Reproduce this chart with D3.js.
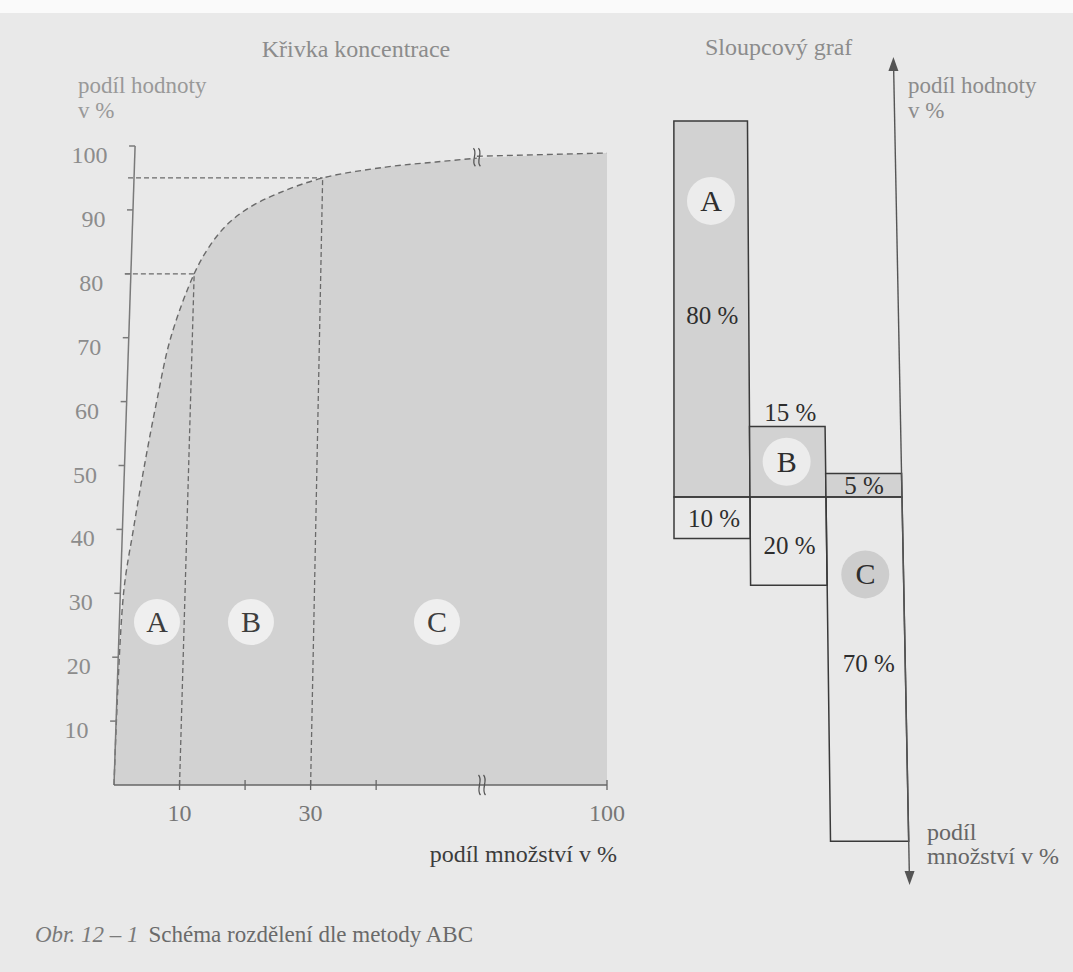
<!DOCTYPE html>
<html><head><meta charset="utf-8">
<script src="https://cdn.jsdelivr.net/npm/d3@7"></script>
<style>html,body{margin:0;padding:0;background:#e9e9e9;} svg{display:block}</style>
</head><body><svg id="c" width="1073" height="972"></svg>
<script>
// ---------------- data ----------------
const classes = ["A", "B", "C"];
const valueShare = [80, 15, 5];        // podíl hodnoty v %
const quantityShare = [10, 20, 70];    // podíl množství v %
const curveX = [0, 0.5, 1.7, 3.1, 4.7, 6.6, 10, 12.3, 15, 18.5, 23, 30, 40, 48, 54.5];
const curveY = [0, 30, 40, 50, 60, 70, 80, 84.3, 87.7, 90.4, 92.6, 95, 96.7, 97.5, 98.1];
const tailX = [54.5, 100];
const tailY = [98.4, 98.9];
const yTicks = [10, 20, 30, 40, 50, 60, 70, 80, 90, 100];
const xTicks = [10, 20, 30, 40, 100];
const xTickLabels = [10, 30, 100];
const axisBreak = 56;
const titleLeft = "Křivka koncentrace";
const titleRight = "Sloupcový graf";
const yTitle = ["podíl hodnoty", "v %"];
const xTitle = "podíl množství v %";
const xTitleRight = ["podíl", "množství v %"];
const captionA = "Obr. 12 – 1";
const captionB = "Schéma rozdělení dle metody ABC";

// ---------------- setup ----------------
const svg = d3.select("#c");
const serif = "'Liberation Serif','DejaVu Serif',serif";
svg.append("rect").attr("width", 1073).attr("height", 972).attr("fill", "#e9e9e9");
svg.append("rect").attr("width", 1073).attr("height", 13).attr("fill", "#fafafa");

const cumQ = d3.cumsum(quantityShare);   // 10, 30, 100
const cumV = d3.cumsum(valueShare);      // 80, 95, 100

// ---------------- left: Křivka koncentrace ----------------
const x = d3.scaleLinear().domain([0, axisBreak, 100]).range([114, 481, 607]);
const y = d3.scaleLinear().domain([0, 100]).range([785, 146]);
const base = y(0);
// slight page warp of the scan
const warpL = (px, py) => {
  const k = 0.033 * Math.max(0, Math.min(1, (607 - px) / (607 - 114)));
  return [px + (base - py) * k, py];
};
const P = (dx, dy) => warpL(x(dx), y(dy));
const gL = svg.append("g");

const curvePts = curveX.map((d, i) => P(d, curveY[i]));
const tailPts = tailX.map((d, i) => P(d, tailY[i]));
const smooth = d3.curveCatmullRom.alpha(0.5);

// shaded area under curve
const areaGen = d3.area().x(p => p[0]).y0(base).y1(p => p[1]).curve(smooth);
gL.append("path")
  .attr("d", areaGen([...curvePts, tailPts[1]]))
  .attr("fill", "#d2d2d2");

// guides (dashed)
const dashCol = "#6a6a6a";
const seg = (a, b) => "M" + a[0] + "," + a[1] + "L" + b[0] + "," + b[1];
[0, 1].forEach(i => {
  gL.append("path").attr("d", seg(P(cumQ[i], 0), P(cumQ[i], cumV[i])))
    .attr("stroke", dashCol).attr("stroke-width", 1.3).attr("stroke-dasharray", "5,3").attr("fill", "none");
  gL.append("path").attr("d", seg(warpL(x(0) - 6, y(cumV[i])), P(cumQ[i], cumV[i])))
    .attr("stroke", dashCol).attr("stroke-width", 1.3).attr("stroke-dasharray", "5,3").attr("fill", "none");
});

// curve
gL.append("path").attr("d", d3.line().curve(smooth)(curvePts))
  .attr("stroke", dashCol).attr("stroke-width", 1.4).attr("stroke-dasharray", "6,4").attr("fill", "none");
gL.append("path").attr("d", seg(tailPts[0], tailPts[1]))
  .attr("stroke", dashCol).attr("stroke-width", 1.4).attr("stroke-dasharray", "6,4").attr("fill", "none");

// break marks
function breakMark(g, cx, cy, h, col) {
  [-2.5, 2.5].forEach(o => {
    g.append("path")
      .attr("d", `M${cx + o - 1},${cy - h / 2} C${cx + o + 4},${cy - h / 4} ${cx + o - 4},${cy + h / 4} ${cx + o + 1},${cy + h / 2}`)
      .attr("stroke", col).attr("stroke-width", 1.3).attr("fill", "none");
  });
}
const tb = P(tailX[0], (curveY[curveY.length - 1] + tailY[0]) / 2);
breakMark(gL, tb[0], tb[1], 18, "#555");

// y axis
const axCol = "#7a7a7a";
gL.append("path").attr("d", seg(P(0, 0), P(0, 100))).attr("stroke", axCol).attr("stroke-width", 1.5);
yTicks.forEach(v => {
  gL.append("path").attr("d", seg(warpL(x(0) - 6, y(v)), P(0, v))).attr("stroke", axCol).attr("stroke-width", 1.5);
  const lp = warpL(x(0) - 27, y(v) + 17);
  gL.append("text").attr("x", lp[0]).attr("y", lp[1]).attr("text-anchor", "end")
    .attr("font-family", serif).attr("font-size", 24).attr("fill", "#8c8c8c").text(v);
});

// x axis
gL.append("path").attr("d", seg([x(0), base], [x(100), base])).attr("stroke", "#666").attr("stroke-width", 1.5);
xTicks.forEach(v => {
  gL.append("path").attr("d", seg([x(v), base - 5], [x(v), base + 5])).attr("stroke", "#666").attr("stroke-width", 1.3);
});
xTickLabels.forEach(v => {
  gL.append("text").attr("x", x(v)).attr("y", base + 36).attr("text-anchor", "middle")
    .attr("font-family", serif).attr("font-size", 24).attr("fill", "#777").text(v);
});
breakMark(gL, x(axisBreak) + 1, base, 20, "#555");

// zone labels
const zonePos = [5.8, 20.3, 49];
classes.forEach((c, i) => {
  const p = P(zonePos[i], 25.5);
  gL.append("circle").attr("cx", p[0]).attr("cy", p[1]).attr("r", 23).attr("fill", "#efefef");
  gL.append("text").attr("x", p[0]).attr("y", p[1] + 10).attr("text-anchor", "middle")
    .attr("font-family", serif).attr("font-size", 30).attr("fill", "#3d3d3d").text(c);
});

// titles
gL.append("text").attr("x", 356).attr("y", 57).attr("text-anchor", "middle")
  .attr("font-family", serif).attr("font-size", 24).attr("fill", "#8c8c8c").text(titleLeft);
yTitle.forEach((t, i) => gL.append("text").attr("x", 78).attr("y", 93 + i * 25)
  .attr("font-family", serif).attr("font-size", 23).attr("fill", "#999").text(t));
gL.append("text").attr("x", 617).attr("y", 862).attr("text-anchor", "end")
  .attr("font-family", serif).attr("font-size", 24).attr("fill", "#3c3c3c").text(xTitle);

// ---------------- right: Sloupcový graf ----------------
const band = d3.scaleBand().domain(classes).range([674, 902]).padding(0);
const bw = band.bandwidth();
const y0R = 497;
const yUp = d3.scaleLinear().domain([0, 100]).range([y0R, y0R - 470]);
const yDown = d3.scalePow().exponent(1.086).domain([0, 100]).range([y0R, y0R + 507]);
const axX = band.range()[1];
const warpR = (px, py) => {
  const k = 0.0195 * Math.max(0, Math.min(1, (px - 670) / (axX - 670)));
  return [px + (py - y0R) * k, py];
};
const gR = svg.append("g");
const poly = pts => "M" + pts.map(p => warpR(p[0], p[1]).join(",")).join("L") + "Z";

classes.forEach((c, i) => {
  const x0 = band(c), x1 = band(c) + bw;
  gR.append("path").attr("d", poly([[x0, yUp(valueShare[i])], [x1, yUp(valueShare[i])], [x1, y0R], [x0, y0R]]))
    .attr("fill", "#d2d2d2").attr("stroke", "#3a3a3a").attr("stroke-width", 1.5);
  gR.append("path").attr("d", poly([[x0, y0R], [x1, y0R], [x1, yDown(quantityShare[i])], [x0, yDown(quantityShare[i])]]))
    .attr("fill", "none").attr("stroke", "#3a3a3a").attr("stroke-width", 1.5);
});

// vertical axis with arrows
const aTop = warpR(axX, 57), aBot = warpR(axX, 885);
gR.append("path").attr("d", seg(warpR(axX, 66), warpR(axX, 876))).attr("stroke", "#555").attr("stroke-width", 1.4);
gR.append("path").attr("d", `M${aTop[0]},${aTop[1]}L${aTop[0] - 5},${aTop[1] + 14}L${aTop[0] + 5},${aTop[1] + 14}Z`).attr("fill", "#555");
gR.append("path").attr("d", `M${aBot[0]},${aBot[1]}L${aBot[0] - 5},${aBot[1] - 14}L${aBot[0] + 5},${aBot[1] - 14}Z`).attr("fill", "#555");

function rText(t, px, py, size, col) {
  const p = warpR(px, py);
  gR.append("text").attr("x", p[0]).attr("y", p[1]).attr("text-anchor", "middle")
    .attr("font-family", serif).attr("font-size", size).attr("fill", col).text(t);
}
function rCircle(px, py, fill) {
  const p = warpR(px, py);
  gR.append("circle").attr("cx", p[0]).attr("cy", p[1]).attr("r", 24).attr("fill", fill);
}
const cx = c => band(c) + bw / 2;
const txtCol = "#2e2e2e";
// A
rCircle(cx("A"), yUp(63), "#ececec");
rText("A", cx("A"), yUp(63) + 10, 30, txtCol);
rText(valueShare[0] + " %", cx("A") + 1, yUp(38.7) + 9, 25, txtCol);
rText(quantityShare[0] + " %", cx("A") + 2, (y0R + yDown(quantityShare[0])) / 2 + 9, 25, txtCol);
// B
rText(valueShare[1] + " %", cx("B") + 3, yUp(valueShare[1]) - 6, 25, txtCol);
rCircle(cx("B") - 1, (yUp(valueShare[1]) + y0R) / 2, "#ececec");
rText("B", cx("B") - 1, (yUp(valueShare[1]) + y0R) / 2 + 10, 30, txtCol);
rText(quantityShare[1] + " %", cx("B") + 1, (y0R + yDown(quantityShare[1])) / 2 + 13, 25, txtCol);
// C
rText(valueShare[2] + " %", cx("C"), (yUp(valueShare[2]) + y0R) / 2 + 9, 25, txtCol);
const cC = y0R + 0.225 * (yDown(quantityShare[2]) - y0R);
rCircle(cx("C"), cC, "#cdcdcd");
rText("C", cx("C"), cC + 10, 30, txtCol);
rText(quantityShare[2] + " %", cx("C") + 2, y0R + 0.483 * (yDown(quantityShare[2]) - y0R) + 9, 25, txtCol);

// titles right
gR.append("text").attr("x", 705).attr("y", 55)
  .attr("font-family", serif).attr("font-size", 24).attr("fill", "#8c8c8c").text(titleRight);
yTitle.forEach((t, i) => gR.append("text").attr("x", 908).attr("y", 93 + i * 25)
  .attr("font-family", serif).attr("font-size", 23).attr("fill", "#8c8c8c").text(t));
xTitleRight.forEach((t, i) => gR.append("text").attr("x", 927).attr("y", 840 + i * 24)
  .attr("font-family", serif).attr("font-size", 24).attr("fill", "#666").text(t));

// caption
const cap = svg.append("text").attr("x", 35).attr("y", 942).attr("font-family", serif).attr("font-size", 23);
cap.append("tspan").attr("font-style", "italic").attr("fill", "#7a7a7a").text(captionA);
cap.append("tspan").attr("fill", "#6a6a6a").attr("dx", 10).text(captionB);
</script></body></html>
